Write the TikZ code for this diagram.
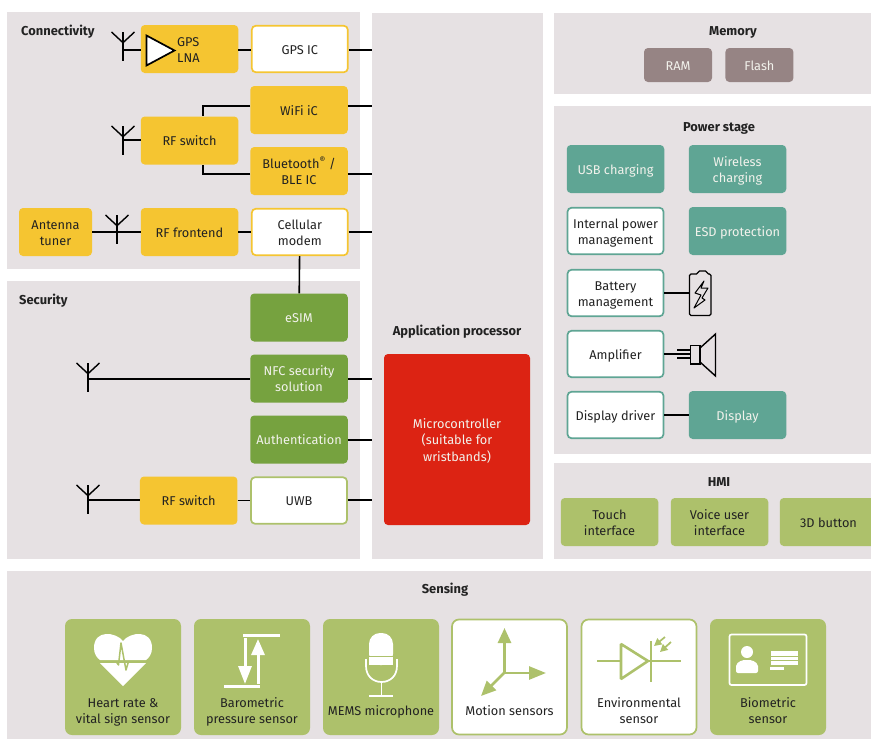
\documentclass[tikz,border=0pt]{standalone}
\usepackage{fontspec}
\setmainfont{Fira Sans}
\usetikzlibrary{positioning, calc, arrows.meta}

\definecolor{panelgrey}{HTML}{E6E1E3}
\definecolor{chipyellow}{HTML}{F5C531}
\definecolor{chipgreen}{HTML}{76A23F}
\definecolor{chipteal}{HTML}{5FA594}
\definecolor{chiplime}{HTML}{ADC16B}
\definecolor{chipbrown}{HTML}{968484}
\definecolor{chipred}{HTML}{DC2313}
\definecolor{inktext}{HTML}{222222}
\definecolor{softwhite}{HTML}{F2F2EC}

\tikzset{
	panel/.style={fill=panelgrey, rectangle, inner sep=0pt, anchor=north west},
	heading/.style={font=\fontsize{12.9}{15}\selectfont\bfseries, text=inktext, inner sep=0pt},
	chip/.style={rectangle, rounded corners=4pt, minimum width=97.5pt, minimum height=48pt, inner sep=0pt,
		align=center, font=\fontsize{12.75}{16.2}\selectfont, text=inktext, text height=13pt, text depth=2.4pt},
	twolines/.style={text height=29.2pt},
	threelines/.style={text height=45.4pt},
	yellowchip/.style={chip, fill=chipyellow},
	greenchip/.style={chip, fill=chipgreen, text=softwhite},
	tealchip/.style={chip, fill=chipteal, text=softwhite},
	limechip/.style={chip, fill=chiplime},
	memchip/.style={chip, fill=chipbrown, text=softwhite, minimum width=68pt, minimum height=34pt},
	hollowchip/.style={chip, fill=white, draw=#1, line width=1.7pt, minimum width=96pt, minimum height=46.5pt},
	sensor/.style={rectangle, rounded corners=7pt, minimum width=116pt, minimum height=116pt, inner sep=0pt, fill=chiplime},
	hollowsensor/.style={sensor, fill=white, draw=chiplime, line width=1.7pt, minimum width=115pt, minimum height=115pt},
	sensortext/.style={align=center, inner sep=0pt, font=\fontsize{12.75}{16.2}\selectfont, text=inktext, text height=13pt, text depth=2.4pt},
	wire/.style={draw=black, line width=1.6pt},
	antenna/.pic={
		\draw[line width=1.4pt] (-11.5,0) -- (0,10.7) -- (11.5,0);
		\draw[line width=1.4pt] (0,0) -- (0,29);
	},
}

\begin{document}
\begin{tikzpicture}[x=1pt, y=-1pt]
	\useasboundingbox (0,0) rectangle (871,742);

	% panels %
	\node[panel, minimum width=353pt, minimum height=257pt] (connect) at (7,12) {};
	\node[panel, minimum width=353pt, minimum height=278pt] (secure) at (7,281) {};
	\node[panel, minimum width=171pt, minimum height=546pt] (app) at (372,13) {};
	\node[panel, minimum width=317pt, minimum height=81pt] (memory) at (554,13) {};
	\node[panel, minimum width=317pt, minimum height=348pt] (power) at (554,106) {};
	\node[panel, minimum width=317pt, minimum height=96pt] (hmi) at (554,463) {};
	\node[panel, minimum width=864pt, minimum height=168pt] (sensing) at (7,571) {};

	% headings %
	\node[heading, anchor=west] (connecttitle) at (21,31.5) {Connectivity};
	\node[heading, anchor=west] (securetitle) at (19,300.5) {Security};
	\node[heading] (apptitle) at (457,332) {Application processor};
	\node[heading] (memorytitle) at (733,32) {Memory};
	\node[heading] (powertitle) at (719,128) {Power stage};
	\node[heading] (hmititle) at (719,482.5) {HMI};
	\node[heading] (sensingtitle) at (445,590) {Sensing};

	% connectivity %
	\node[yellowchip] (gpslna) at (189.5,49) {};
	\node[hollowchip=chipyellow, right=12.5pt of gpslna] (gpsic) {GPS IC};
	\node[yellowchip] (wifi) at (299,110) {WiFi iC};
	\node[yellowchip] (rfswitch) at (189.5,140.5) {RF switch};
	\node[yellowchip, twolines] (ble) at (299,171) {Bluetooth\textsuperscript{®} /\\BLE IC};
	\node[yellowchip, twolines, minimum width=73pt] (tuner) at (55.5,232) {Antenna\\tuner};
	\node[yellowchip] (rffront) at (189.5,232) {RF frontend};
	\node[hollowchip=chipyellow, twolines, right=12.5pt of rffront] (modem) {Cellular\\modem};
	\node[chip, twolines, anchor=west, minimum width=0pt, minimum height=0pt, align=left] (gpslnatext) at (177,49.5) {GPS\\LNA};
	\draw[fill=white, line width=1.7pt] (146.5,35.5) -- (174.5,50.5) -- (146.5,65.5) -- cycle;

	% security %
	\node[greenchip] (esim) at (299,317.5) {eSIM};
	\node[greenchip, twolines] (nfc) at (299,378.5) {NFC security\\solution};
	\node[greenchip] (auth) at (299,439.5) {Authentication};
	\node[hollowchip=chiplime] (uwb) at (299,500.5) {UWB};
	\node[yellowchip, left=12.5pt of uwb] (rfswitchb) {RF switch};

	% application processor %
	\node[chip, threelines, fill=chipred, text=softwhite, minimum width=146pt, minimum height=171pt] (micro) at (457,439.5) {Microcontroller\\(suitable for\\wristbands)};

	% memory %
	\node[memchip] (ram) at (678,65) {RAM};
	\node[memchip, right=13pt of ram] (flash) {Flash};

	% power stage %
	\node[tealchip] (usb) at (615.5,169) {USB charging};
	\node[tealchip, twolines] (wireless) at (737.5,169) {Wireless\\charging};
	\node[hollowchip=chipteal, twolines] (pmic) at (615.5,231) {Internal power\\management};
	\node[tealchip] (esd) at (737.5,231) {ESD protection};
	\node[hollowchip=chipteal, twolines] (battery) at (615.5,293) {Battery\\management};
	\node[hollowchip=chipteal] (amp) at (615.5,354) {Amplifier};
	\node[hollowchip=chipteal] (driver) at (615.5,415) {Display driver};
	\node[tealchip] (display) at (737.5,415) {Display};

	% hmi %
	\node[limechip, twolines] (touch) at (609.5,522) {Touch\\interface};
	\node[limechip, twolines] (voice) at (719.5,522) {Voice user\\interface};
	\begin{scope}
		\clip (0,0) rectangle (871,742);
		\node[limechip] (button) at (828.5,522) {3D button};
	\end{scope}

	% sensors %
	\node[sensor] (heart) at (123,677) {};
	\node[sensor] (baro) at (252,677) {};
	\node[sensor] (mems) at (381,677) {};
	\node[hollowsensor] (motion) at (509.5,677) {};
	\node[hollowsensor] (enviro) at (639,677) {};
	\node[sensor] (biometric) at (768,677) {};
	\node[sensortext, twolines] (hearttext) at (123,710.5) {Heart rate \&\\vital sign sensor};
	\node[sensortext, twolines] (barotext) at (252,710.5) {Barometric\\pressure sensor};
	\node[sensortext] (memstext) at (381,710.5) {MEMS microphone};
	\node[sensortext] (motiontext) at (509.5,710.5) {Motion sensors};
	\node[sensortext, twolines] (envirotext) at (639,710.5) {Environmental\\sensor};
	\node[sensortext, twolines] (biometrictext) at (768,710.5) {Biometric\\sensor};

	% antennas %
	\pic (antgps) at (123,32) {antenna};
	\pic (antrf) at (123,126) {antenna};
	\pic (anttuner) at (117,215) {antenna};
	\pic (antnfc) at (88,363) {antenna};
	\pic (antuwb) at (88,485) {antenna};
	\coordinate (feedgps) at (123,50);
	\coordinate (feedrf) at (123,140);
	\coordinate (feednfc) at (88,379);
	\coordinate (feeduwb) at (88,500);

	% edges %
	\draw[wire] (feedgps) -- (gpslna.west |- feedgps);
	\draw[wire] (gpslna.east |- feedgps) -- (gpsic.west |- feedgps);
	\draw[wire] (gpsic.east |- feedgps) -- (app.west |- feedgps);
	\draw[wire] ([yshift=4pt]wifi.east) -- ([yshift=4pt]wifi.east -| app.west);
	\draw[wire] ([yshift=4pt]wifi.west) -| (203,116);
	\draw[wire] (feedrf) -- (rfswitch.west |- feedrf);
	\draw[wire] ([yshift=-3pt]ble.west) -| (203,165);
	\draw[wire] ([yshift=-3pt]ble.east) -- ([yshift=-3pt]ble.east -| app.west);
	\draw[wire] (tuner) -- (rffront);
	\draw[wire] (rffront) -- (modem);
	\draw[wire] (modem.east) -- (modem.east -| app.west);
	\draw[wire] (modem) -- (esim);
	\draw[wire] (feednfc) -- (nfc.west |- feednfc);
	\draw[wire] (nfc.east |- feednfc) -- (app.west |- feednfc);
	\draw[wire] ([yshift=-.5pt]auth.east) -- ([yshift=-.5pt]auth.east -| app.west);
	\draw[wire] (feeduwb) -- (rfswitchb.west |- feeduwb);
	\draw[wire] (rfswitchb) -- (uwb);
	\draw[wire] ([yshift=.5pt]uwb.east) -- ([yshift=.5pt]uwb.east -| app.west);
	\draw[wire] (battery.east) -- (689,293);
	\draw[wire] (amp.east) -- (690,354);
	\draw[wire] (driver) -- (display);

	% battery %
	\draw[line width=1.1pt, rounded corners=1.5pt, fill=panelgrey] (689.5,274) -- (698,274) -- (698,271) -- (707,271) -- (707,274) -- (711,274) -- (711,315.5) -- (689.5,315.5) -- cycle;
	\draw[line width=1pt, line join=round] (704,281) -- (695,293) -- (701,295) -- (694,308) -- (705,300) -- (702,298) -- (708,288) -- (701,288) -- cycle;

	% speaker %
	\draw[line width=1.4pt] (677,350) -- (690,350);
	\draw[line width=1.4pt] (677,358) -- (690,358);
	\draw[line width=1.4pt] (690.5,345.5) rectangle (700,364);
	\draw[line width=1.4pt] (700,348) -- (715.5,334) -- (715.5,376) -- (700,362);

	% heart icon %
	\fill[white] (123,641) .. controls (116,632) and (94,629) .. (94,648) .. controls (94,654) and (97,658) .. (100,660)
		-- (146,660) .. controls (149,658) and (152,654) .. (152,648) .. controls (152,629) and (130,632) .. (123,641) -- cycle;
	\fill[white] (100,663) -- (146,663) -- (123,686) -- cycle;
	\draw[chiplime, line width=1.5pt, line join=round] (100,661.5) -- (116,661.5) -- (118.5,665) -- (121,643) -- (126,670) -- (128.5,661.5) -- (146,661.5);

	% pressure icon %
	\draw[white, line width=3pt] (243,635) -- (280,635);
	\draw[white, line width=3pt] (224,686) -- (260,686);
	\draw[white, line width=3pt, -{Triangle[length=18pt, width=13pt]}] (245,638) -- (245,684);
	\draw[white, line width=3pt, -{Triangle[length=16pt, width=13pt]}] (258,684) -- (258,639);

	% microphone icon %
	\fill[white, rounded corners=11pt] (369,665) -- (369,633) -- (393,633) -- (393,665) -- cycle;
	\fill[white] (369,656) rectangle (393,665);
	\draw[chiplime, line width=1pt] (369,656.5) -- (393,656.5);
	\draw[white, line width=1.7pt] (366,659) -- (366,666) .. controls (366,676) and (373,682) .. (381.5,682) .. controls (390,682) and (397,676) .. (397,666) -- (397,659);
	\draw[white, line width=1.7pt] (381.5,682) -- (381.5,696);
	\draw[white, line width=1.7pt] (369,696) -- (393,696);

	% motion icon %
	\draw[chiplime, line width=2.6pt, -{Triangle[length=15pt, width=13pt]}] (504.5,673) -- (504.5,628);
	\draw[chiplime, line width=2.6pt, -{Triangle[length=17pt, width=13pt]}] (503.5,673) -- (546,673);
	\draw[chiplime, line width=2.6pt, -{Triangle[length=15pt, width=13pt]}] (505,672) -- (481,696);

	% diode icon %
	\draw[chiplime, line width=2.6pt] (597,661) -- (681,661);
	\draw[chiplime, line width=2.6pt, fill=white, miter limit=2] (621,644) -- (648,661) -- (621,679) -- cycle;
	\draw[chiplime, line width=2.6pt] (651,641) -- (651,682);
	\draw[chiplime, line width=1.7pt, -{Triangle[length=7.5pt, width=7.5pt]}] (665,637) -- (654,646);
	\draw[chiplime, line width=1.7pt, -{Triangle[length=7.5pt, width=7.5pt]}] (671,642) -- (660,652);

	% card icon %
	\draw[white, line width=1.7pt, rounded corners=2pt] (729.5,634.5) rectangle (806.5,685);
	\fill[white] (747,652) circle (6pt);
	\fill[white, rounded corners=2pt] (736,673) -- (736,664) -- (742,660) -- (752,660) -- (758,664) -- (758,673) -- cycle;
	\fill[white] (771,651) rectangle (798,655.5);
	\fill[white] (771,656.5) rectangle (798,659.5);
	\fill[white] (771,661) rectangle (798,664.5);
	\fill[white] (770,667) rectangle (784,670);

\end{tikzpicture}
\end{document}
